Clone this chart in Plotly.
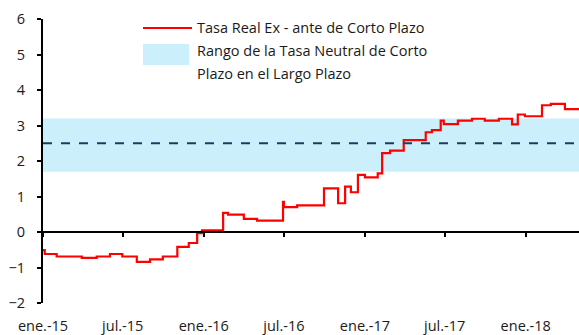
import pandas as pd
import plotly.graph_objects as go

# Tasa real ex-ante de corto plazo: fechas de cambio y valor (%), trazo escalonado
fechas = ["2015-01-01", "2015-01-05", "2015-02-01", "2015-03-30", "2015-05-03", "2015-06-02",
          "2015-06-30", "2015-08-02", "2015-09-01", "2015-09-30", "2015-11-02", "2015-11-28",
          "2015-12-17", "2015-12-28", "2016-02-14", "2016-02-25", "2016-04-01", "2016-05-01",
          "2016-06-29", "2016-07-01", "2016-07-31", "2016-09-30", "2016-11-01", "2016-11-17",
          "2016-11-30", "2016-12-16", "2017-01-01", "2017-01-30", "2017-02-09", "2017-02-27",
          "2017-03-30", "2017-05-19", "2017-06-02", "2017-06-22", "2017-06-29", "2017-07-31",
          "2017-09-01", "2017-09-30", "2017-11-01", "2017-12-01", "2017-12-14", "2017-12-30",
          "2018-02-07", "2018-02-27", "2018-03-31", "2018-05-02"]
tasa = [-0.51, -0.62, -0.69, -0.73, -0.69, -0.62, -0.69, -0.84, -0.77, -0.69, -0.42, -0.31,
        -0.03, 0.05, 0.54, 0.49, 0.37, 0.32, 0.85, 0.70, 0.75, 1.23, 0.81, 1.28,
        1.12, 1.61, 1.54, 1.65, 2.22, 2.29, 2.59, 2.81, 2.87, 3.14, 3.04, 3.14,
        3.19, 3.14, 3.19, 3.03, 3.31, 3.26, 3.57, 3.61, 3.46, 3.46]

# Rango de la tasa neutral de corto plazo en el largo plazo
rango_fechas = ["2015-01-01", "2018-05-02"]
rango_inf = [1.7, 1.7]
rango_sup = [3.2, 3.2]
neutral = [2.5, 2.5]

tick_fechas = ["2015-01-01", "2015-07-01", "2016-01-01", "2016-07-01",
               "2017-01-01", "2017-07-01", "2018-01-01"]
tick_textos = ["ene.-15", "jul.-15", "ene.-16", "jul.-16", "ene.-17", "jul.-17", "ene.-18"]

FONT = "Open Sans"
AZUL = "#CCEFFC"
ROJO = "#FF0000"
TEXTO = "#1A1A1A"
TRANSP = "rgba(0,0,0,0)"

W, H = 579, 335
ML, MR, MT, MB = 43, 0, 19, 32
PH = H - MT - MB
DOM_X0 = ML / W  # plot area starts at the left margin; the label axis spans the full width


def px(x):
    return x / W


def py(y):
    return (H - MB - y) / PH


# date range of the full-width label axis, same scale as the data axis
t0, t1 = pd.Timestamp(rango_fechas[0]), pd.Timestamp(rango_fechas[-1])
por_px = (t1 - t0) / (W - ML - MR)
t_izq = t0 - por_px * ML

fig = go.Figure()

fig.add_trace(go.Scatter(x=rango_fechas, y=rango_inf, mode="lines",
                         line=dict(width=0, color=AZUL), hoverinfo="skip", showlegend=False))
fig.add_trace(go.Scatter(x=rango_fechas, y=rango_sup, mode="lines", fill="tonexty",
                         fillcolor=AZUL, line=dict(width=0, color=AZUL),
                         hoverinfo="skip", showlegend=False))
fig.add_trace(go.Scatter(x=rango_fechas, y=neutral, mode="lines", xaxis="x2",
                         line=dict(color="#1B3D5E", width=2, dash="dash"),
                         hoverinfo="skip", showlegend=False))
fig.add_trace(go.Scatter(x=fechas, y=tasa, mode="lines", line_shape="hv",
                         line=dict(color=ROJO, width=2.2), showlegend=False))
# carrier for the date labels axis
fig.add_trace(go.Scatter(x=[], y=[], xaxis="x3", yaxis="y", showlegend=False, hoverinfo="skip"))

# Leyenda
fig.add_shape(type="line", xref="paper", yref="paper",
              x0=px(143), x1=px(192), y0=py(28), y1=py(28),
              line=dict(color=ROJO, width=2))
fig.add_shape(type="rect", xref="paper", yref="paper",
              x0=px(143), x1=px(189), y0=py(65), y1=py(44),
              fillcolor=AZUL, line=dict(width=0))
for texto, yy in [("Tasa Real Ex - ante de Corto Plazo", 28),
                  ("Rango de la Tasa Neutral de Corto", 51),
                  ("Plazo en el Largo Plazo", 73)]:
    fig.add_annotation(text=texto, xref="paper", yref="paper", x=px(195), y=py(yy),
                       xanchor="left", yanchor="middle", showarrow=False,
                       font=dict(family=FONT, size=14.5, color=TEXTO))

fig.update_layout(
    width=W, height=H,
    margin=dict(l=0, r=MR, t=MT, b=MB),
    paper_bgcolor="white", plot_bgcolor=TRANSP,
    font=dict(family=FONT, size=14, color=TEXTO),
    xaxis=dict(type="date", domain=[DOM_X0, 1], range=rango_fechas, anchor="y",
               showticklabels=False, showgrid=False, showline=False, zeroline=False,
               ticks="", automargin=False),
    xaxis2=dict(type="date", overlaying="x", matches="x", anchor="free", position=0.25,
                tickvals=tick_fechas, showticklabels=False,
                showgrid=False, zeroline=False, showline=True, linecolor="black", linewidth=2,
                ticks="outside", ticklen=4, tickwidth=2, tickcolor="black", automargin=False),
    xaxis3=dict(type="date", domain=[0, 1], anchor="free", position=0,
                range=[t_izq.isoformat(), t1.isoformat()],
                tickvals=tick_fechas, ticktext=tick_textos,
                showgrid=False, showline=False, zeroline=False,
                ticks="outside", ticklen=10, tickcolor=TRANSP,
                automargin=False, tickfont=dict(family=FONT, size=14.5)),
    yaxis=dict(range=[-2, 6], dtick=1, anchor="x", showgrid=False, zeroline=False,
               showline=True, linecolor="black", linewidth=2,
               ticks="outside", ticklen=4, tickwidth=2, tickcolor="black",
               automargin=False,
               ticklabelstandoff=9, tickfont=dict(family=FONT, size=14.5)),
)

fig.write_html("out.html")
